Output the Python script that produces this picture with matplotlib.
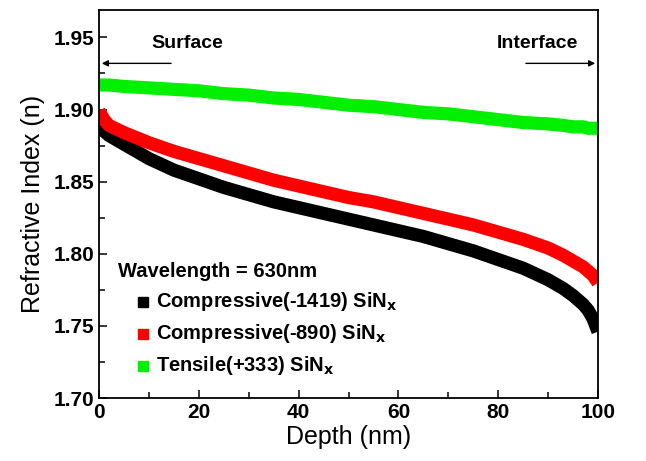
import numpy as np
import matplotlib
matplotlib.use('Agg')
import matplotlib.pyplot as plt
from matplotlib.ticker import MultipleLocator, FormatStrFormatter

plt.rcParams['font.family'] = ['Liberation Sans', 'DejaVu Sans']

# ── DATA ──────────────────────────────────────────────────────────────────────
depth = [0, 1, 2, 5, 10, 15, 20, 25, 30, 35, 40, 45, 50, 55, 60, 65, 70, 75,
         80, 85, 90, 93, 95, 97, 98, 99, 100]
n_comp1419 = [1.889, 1.885, 1.882, 1.876, 1.866, 1.858, 1.852, 1.846, 1.841,
              1.836, 1.832, 1.828, 1.824, 1.820, 1.816, 1.812, 1.807, 1.802,
              1.796, 1.790, 1.782, 1.776, 1.771, 1.765, 1.761, 1.755, 1.746]
n_comp890 = [1.899, 1.893, 1.889, 1.884, 1.877, 1.871, 1.866, 1.861, 1.856,
             1.851, 1.847, 1.843, 1.839, 1.836, 1.832, 1.828, 1.824, 1.820,
             1.815, 1.810, 1.804, 1.799, 1.795, 1.791, 1.788, 1.785, 1.780]
n_tensile = [1.917, 1.917, 1.917, 1.916, 1.915, 1.914, 1.913, 1.911, 1.910,
             1.908, 1.907, 1.905, 1.903, 1.902, 1.900, 1.898, 1.897, 1.895,
             1.893, 1.891, 1.890, 1.889, 1.888, 1.888, 1.887, 1.887, 1.887]

labels = ['Compressive(-1419) SiN$_\\mathbf{x}$',
          'Compressive(-890) SiN$_\\mathbf{x}$',
          'Tensile(+333) SiN$_\\mathbf{x}$']
colors = ['#000000', '#ff0000', '#00f000']

# ── PLOT ──────────────────────────────────────────────────────────────────────
fig = plt.figure(figsize=(6.46, 4.61), dpi=100)
ax = fig.add_axes([99 / 646, 1 - 398 / 461, 499 / 646, 388 / 461])

for vals, c in zip([n_comp1419, n_comp890, n_tensile], colors):
    ax.plot(depth, vals, color=c, lw=9.5, solid_capstyle='butt',
            solid_joinstyle='round')

ax.set_xlim(0, 100)
ax.set_ylim(1.70, 1.969)
ax.xaxis.set_major_locator(MultipleLocator(20))
ax.xaxis.set_minor_locator(MultipleLocator(10))
ax.yaxis.set_major_locator(MultipleLocator(0.05))
ax.yaxis.set_minor_locator(MultipleLocator(0.025))
ax.yaxis.set_major_formatter(FormatStrFormatter('%.2f'))
ax.tick_params(which='both', direction='in', top=False, right=False,
               width=1.1, labelsize=15)
ax.tick_params(which='major', length=6)
ax.tick_params(which='minor', length=4)
for lab in ax.get_xticklabels() + ax.get_yticklabels():
    lab.set_fontweight('bold')
for s in ax.spines.values():
    s.set_linewidth(1.3)

ax.set_xlabel('Depth (nm)', fontsize=18, labelpad=2)
ax.set_ylabel('Refractive Index (n)', fontsize=18, labelpad=6)

# surface / interface arrows
ax.annotate('', xy=(0, 1.932), xytext=(15, 1.932),
            arrowprops=dict(arrowstyle='-|>', color='black', lw=1, mutation_scale=9))
ax.annotate('', xy=(100, 1.932), xytext=(85, 1.932),
            arrowprops=dict(arrowstyle='-|>', color='black', lw=1, mutation_scale=9))
ax.text(17.7, 1.946, 'Surface', fontsize=14, fontweight='bold',
        ha='center', va='center')
ax.text(87.9, 1.946, 'Interface', fontsize=14, fontweight='bold',
        ha='center', va='center')

# legend
ax.text(3.8, 1.7875, 'Wavelength = 630nm', fontsize=14.5, fontweight='bold',
        ha='left', va='center')
for i, (lab, c) in enumerate(zip(labels, colors)):
    y = 1.7667 - i * 0.0222
    ax.plot([8.8], [y], marker='s', ms=7, color=c, ls='none')
    ax.text(11.4, y, lab, fontsize=14.5, fontweight='bold', ha='left', va='center')

fig.savefig('out.png', dpi=100)
